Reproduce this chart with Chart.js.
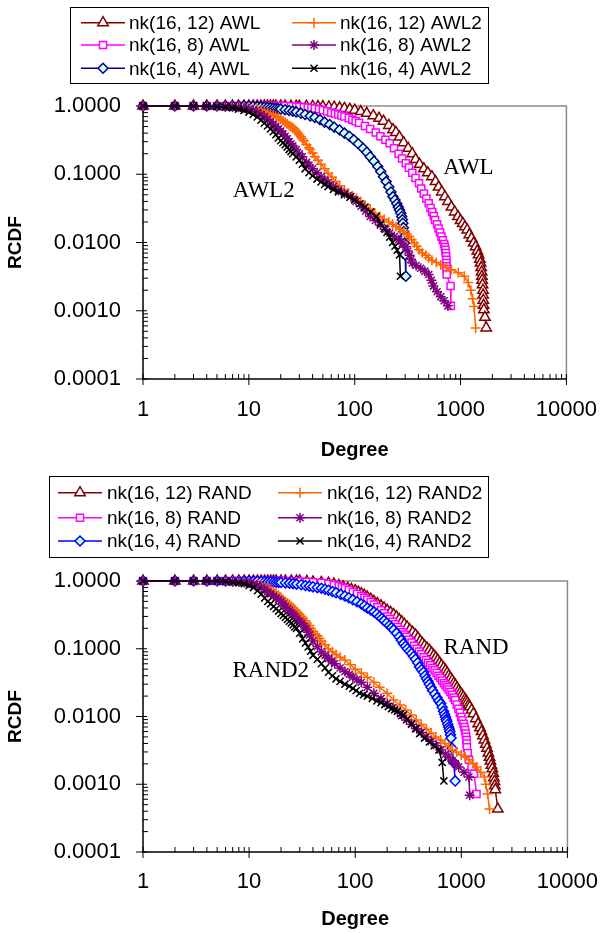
<!DOCTYPE html>
<html lang="en">
<head>
<meta charset="UTF-8">
<title>RCDF of degree: AWL and RAND</title>
<script src="https://cdn.jsdelivr.net/npm/chart.js@4.4.1/dist/chart.umd.min.js"></script>
<style>
body { margin: 0; background: #fff; }
.wrap { position: relative; width: 615px; height: 933px; }
canvas { position: absolute; left: 0; }
#awlChart { top: 0; }
#randChart { top: 466px; }
</style>
</head>
<body>
<div class="wrap">
<canvas id="awlChart" width="615" height="466"></canvas>
<canvas id="randChart" width="615" height="467"></canvas>
</div>
<script>
// axis ticks
const degreeTicks = [1, 10, 100, 1000, 10000];
const rcdfTicks = [0.0001, 0.001, 0.01, 0.1, 1];

// ---- upper chart: AWL / AWL2 ---- [degree, rcdf]
const awl12 = [[1,1],[2,1],[3,1],[4,1],[5,1],[6,1],[7,1],[8,1],[9,1],[10,1],[11,1],[12,1],[13,1],[14,1],[15,1],[16,1],[17,1],[18,1],[20,1],[22,1],[25,0.995],[28,0.993],[30,0.99],[35,0.988],[40,0.985],[45,0.983],[50,0.98],[57,0.97],[64,0.96],[72,0.94],[80,0.92],[90,0.895],[100,0.87],[114,0.83],[130,0.78],[150,0.72],[170,0.66],[187,0.6],[210,0.52],[230,0.45],[245,0.41],[265,0.35],[290,0.29],[320,0.24],[350,0.2],[376,0.165],[410,0.14],[450,0.12],[490,0.105],[536,0.092],[580,0.078],[620,0.065],[665,0.055],[710,0.047],[760,0.04],[820,0.033],[880,0.028],[945,0.024],[1000,0.021],[1050,0.019],[1100,0.017],[1155,0.0153],[1210,0.013],[1270,0.0115],[1330,0.0098],[1390,0.0087],[1440,0.0075],[1480,0.0066],[1520,0.0057],[1545,0.005],[1565,0.0043],[1580,0.0037],[1590,0.0032],[1600,0.0028],[1615,0.0024],[1630,0.002],[1635,0.0017],[1640,0.00143],[1650,0.0012],[1660,0.00103],[1700,0.0008],[1745,0.00056]];
const awl8 = [[1,1],[2,1],[3,1],[4,1],[5,1],[6,1],[7,1],[8,1],[9,1],[10,1],[11,1],[12,1],[13,1],[14,1],[15,1],[16,1],[17,1],[18,1],[20,1],[22,1],[25,0.99],[28,0.98],[30,0.97],[33,0.96],[36,0.95],[39,0.935],[42,0.92],[46,0.895],[50,0.87],[55,0.835],[60,0.8],[65,0.775],[70,0.75],[75,0.725],[80,0.7],[88,0.665],[95,0.63],[102,0.6],[110,0.57],[125,0.51],[140,0.46],[158,0.41],[175,0.36],[195,0.32],[214,0.284],[235,0.24],[260,0.2],[280,0.17],[304,0.145],[325,0.125],[350,0.105],[375,0.088],[405,0.074],[425,0.062],[450,0.052],[475,0.044],[500,0.0376],[520,0.032],[540,0.028],[558,0.0245],[575,0.0214],[600,0.0185],[620,0.016],[640,0.014],[660,0.0122],[680,0.0108],[700,0.0095],[710,0.0086],[720,0.0078],[725,0.007],[730,0.0063],[733,0.0056],[735,0.005],[738,0.0045],[740,0.0041],[740,0.0034],[805,0.0023],[810,0.00118]];
const awl4 = [[1,1],[2,1],[3,1],[4,1],[5,1],[6,1],[7,1],[8,1],[9,1],[10,1],[11,0.99],[12,0.98],[13,0.97],[14,0.96],[15,0.95],[16,0.94],[17,0.93],[18,0.92],[19,0.91],[20,0.9],[22,0.88],[24,0.86],[26,0.84],[28,0.82],[31,0.785],[34,0.75],[38,0.715],[42,0.68],[47,0.63],[52,0.58],[58,0.535],[64,0.49],[72,0.445],[80,0.4],[89,0.36],[98,0.32],[108,0.28],[120,0.24],[130,0.21],[140,0.18],[152,0.155],[165,0.13],[176,0.11],[187,0.092],[198,0.078],[210,0.065],[220,0.055],[230,0.047],[240,0.042],[250,0.037],[258,0.033],[265,0.03],[272,0.027],[278,0.024],[282,0.0215],[285,0.0191],[288,0.0165],[290,0.0145],[293,0.012],[296,0.0098],[300,0.0066],[304,0.0032]];
const awl2k12 = [[1,1],[2,1],[3,1],[4,1],[5,1],[6,1],[7,1],[8,0.98],[9,0.97],[10,0.95],[11,0.93],[12,0.9],[13,0.87],[14,0.84],[15,0.8],[16,0.77],[17,0.74],[18,0.71],[19,0.68],[20,0.64],[21,0.61],[22,0.58],[23,0.55],[24,0.52],[25,0.5],[26,0.48],[27,0.455],[28,0.43],[29,0.405],[30,0.38],[31,0.355],[32,0.33],[33,0.31],[35,0.27],[37,0.245],[38,0.23],[40,0.205],[42,0.18],[45,0.16],[48,0.14],[52,0.12],[56,0.103],[61,0.09],[66,0.078],[72,0.068],[80,0.059],[87,0.053],[95,0.048],[104,0.044],[114,0.04],[126,0.035],[140,0.031],[155,0.027],[173,0.024],[190,0.022],[210,0.02],[228,0.0185],[246,0.0171],[268,0.0158],[290,0.0145],[310,0.0133],[327,0.0122],[345,0.011],[365,0.0098],[385,0.0088],[405,0.0078],[435,0.0071],[470,0.0065],[500,0.006],[536,0.0055],[590,0.0051],[650,0.0047],[730,0.0043],[820,0.004],[950,0.0036],[1085,0.0032],[1180,0.0026],[1250,0.002],[1300,0.0015],[1340,0.00115],[1390,0.00056]];
const awl2k8 = [[1,1],[2,1],[3,1],[4,1],[5,1],[6,0.99],[7,0.98],[8,0.96],[9,0.93],[10,0.9],[11,0.86],[12,0.8],[13,0.75],[14,0.7],[15,0.64],[16,0.59],[17,0.54],[18,0.5],[19,0.46],[20,0.43],[21,0.39],[22,0.36],[23,0.33],[24,0.3],[25,0.28],[26,0.26],[28,0.23],[30,0.2],[32,0.18],[35,0.15],[37,0.135],[40,0.12],[44,0.105],[48,0.092],[52,0.083],[56,0.075],[63,0.066],[70,0.058],[80,0.052],[92,0.047],[103,0.04],[115,0.034],[127,0.029],[140,0.024],[157,0.021],[175,0.018],[195,0.0155],[214,0.0137],[237,0.0122],[260,0.011],[282,0.0097],[304,0.0087],[318,0.0075],[330,0.0065],[340,0.0057],[350,0.005],[380,0.0046],[420,0.0042],[460,0.0038],[500,0.0034],[530,0.0028],[555,0.0023],[600,0.0019],[650,0.0016],[700,0.0014],[760,0.00118]];
const awl2k4 = [[1,1],[2,1],[3,1],[4,0.99],[5,0.98],[6,0.96],[7,0.94],[8,0.9],[9,0.86],[10,0.81],[11,0.75],[12,0.69],[13,0.62],[14,0.56],[15,0.51],[16,0.46],[17,0.42],[18,0.38],[19,0.34],[20,0.31],[21,0.29],[22,0.27],[23,0.25],[24,0.23],[25,0.215],[26,0.2],[28,0.18],[30,0.16],[32,0.14],[34,0.12],[37,0.105],[40,0.095],[44,0.085],[48,0.077],[52,0.071],[56,0.066],[63,0.06],[70,0.055],[80,0.05],[90,0.046],[100,0.042],[112,0.037],[125,0.033],[142,0.028],[160,0.024],[175,0.019],[190,0.016],[202,0.014],[214,0.012],[228,0.01],[240,0.0088],[252,0.0077],[265,0.0066],[270,0.0032]];

// ---- lower chart: RAND / RAND2 ----
const rand12 = [[1,1],[2,1],[3,1],[4,1],[5,1],[6,1],[7,1],[8,1],[9,1],[10,1],[11,1],[12,1],[13,1],[14,1],[15,1],[16,1],[17,1],[18,1],[20,1],[22,1],[25,1],[28,1],[30,1],[35,0.985],[40,0.97],[48,0.95],[56,0.93],[63,0.9],[70,0.86],[77,0.82],[85,0.78],[92,0.75],[100,0.72],[107,0.685],[114,0.65],[122,0.615],[130,0.58],[140,0.54],[150,0.5],[162,0.465],[175,0.43],[187,0.4],[200,0.37],[215,0.345],[230,0.32],[245,0.295],[260,0.27],[275,0.25],[290,0.23],[308,0.21],[327,0.19],[348,0.175],[370,0.16],[390,0.145],[410,0.13],[430,0.12],[450,0.11],[475,0.102],[500,0.095],[525,0.087],[550,0.08],[575,0.074],[600,0.068],[625,0.062],[650,0.057],[680,0.052],[710,0.048],[735,0.044],[760,0.04],[790,0.037],[820,0.034],[850,0.031],[880,0.029],[910,0.0265],[945,0.0243],[975,0.0225],[1010,0.021],[1045,0.0195],[1080,0.018],[1110,0.017],[1140,0.016],[1170,0.0148],[1200,0.0139],[1250,0.0125],[1300,0.011],[1370,0.0093],[1440,0.0078],[1500,0.0068],[1550,0.006],[1600,0.0052],[1650,0.0045],[1700,0.0039],[1750,0.0034],[1800,0.0029],[1845,0.0025],[1880,0.0022],[1920,0.0019],[1960,0.0017],[2000,0.00145],[2030,0.00125],[2050,0.0011],[2070,0.00095],[2090,0.00083],[2210,0.00043]];
const rand8 = [[1,1],[2,1],[3,1],[4,1],[5,1],[6,1],[7,1],[8,1],[9,1],[10,1],[11,1],[12,1],[13,1],[14,1],[15,1],[16,1],[17,1],[18,1],[20,1],[22,1],[25,0.99],[30,0.98],[35,0.97],[40,0.96],[48,0.94],[56,0.91],[63,0.875],[70,0.84],[75,0.81],[80,0.78],[87,0.735],[95,0.69],[104,0.645],[114,0.6],[122,0.565],[130,0.53],[140,0.49],[150,0.45],[162,0.41],[175,0.37],[187,0.335],[200,0.3],[212,0.275],[225,0.25],[237,0.23],[250,0.21],[265,0.19],[280,0.175],[292,0.162],[304,0.15],[322,0.136],[340,0.123],[360,0.111],[380,0.1],[400,0.091],[420,0.083],[442,0.075],[465,0.068],[488,0.062],[510,0.057],[535,0.052],[560,0.048],[585,0.044],[610,0.04],[635,0.037],[660,0.034],[685,0.031],[710,0.029],[735,0.027],[760,0.025],[790,0.023],[820,0.021],[848,0.019],[875,0.0175],[905,0.015],[940,0.013],[970,0.0113],[1000,0.0098],[1025,0.0088],[1050,0.0078],[1070,0.007],[1085,0.0063],[1100,0.0056],[1110,0.005],[1120,0.0045],[1125,0.004],[1130,0.0035],[1150,0.0029],[1180,0.0023],[1250,0.0018],[1320,0.00143],[1390,0.00072]];
const rand4 = [[1,1],[2,1],[3,1],[4,1],[5,1],[6,1],[7,1],[8,1],[9,1],[10,1],[11,0.995],[12,0.99],[13,0.985],[14,0.975],[15,0.97],[16,0.967],[17,0.963],[18,0.96],[19,0.955],[20,0.95],[22,0.94],[24,0.93],[26,0.915],[28,0.9],[31,0.88],[34,0.86],[37,0.84],[40,0.82],[44,0.8],[48,0.78],[52,0.755],[56,0.73],[61,0.7],[66,0.67],[73,0.635],[80,0.6],[87,0.565],[95,0.53],[104,0.495],[114,0.46],[122,0.43],[130,0.4],[140,0.375],[150,0.35],[160,0.325],[170,0.3],[178,0.28],[187,0.26],[198,0.24],[210,0.22],[220,0.205],[230,0.19],[245,0.17],[260,0.15],[272,0.134],[285,0.119],[298,0.109],[310,0.1],[325,0.092],[340,0.085],[355,0.077],[370,0.07],[388,0.062],[405,0.054],[422,0.049],[440,0.045],[455,0.04],[470,0.036],[485,0.033],[500,0.03],[518,0.027],[536,0.0243],[563,0.0215],[590,0.019],[615,0.017],[640,0.0155],[660,0.0137],[680,0.012],[695,0.0108],[710,0.0098],[720,0.009],[730,0.0085],[745,0.0077],[760,0.007],[770,0.0065],[780,0.006],[790,0.0054],[800,0.0048],[820,0.0034],[850,0.0021],[875,0.00112]];
const rand2k12 = [[1,1],[2,1],[3,1],[4,1],[5,1],[6,1],[7,1],[8,0.98],[9,0.97],[10,0.95],[11,0.93],[12,0.91],[13,0.88],[14,0.84],[15,0.8],[16,0.75],[17,0.7],[18,0.66],[19,0.61],[20,0.57],[21,0.535],[22,0.5],[23,0.475],[24,0.45],[25,0.425],[26,0.4],[27,0.375],[28,0.35],[29,0.33],[30,0.315],[31,0.3],[32,0.285],[34,0.26],[35,0.24],[37,0.22],[38,0.2],[40,0.18],[42,0.165],[44,0.155],[46,0.142],[48,0.13],[52,0.115],[56,0.1],[61,0.09],[66,0.082],[72,0.075],[80,0.068],[90,0.058],[100,0.05],[114,0.044],[130,0.038],[150,0.032],[170,0.027],[200,0.022],[230,0.0175],[265,0.0148],[300,0.0125],[337,0.0105],[376,0.0089],[420,0.0076],[470,0.0065],[520,0.0057],[575,0.005],[640,0.0045],[700,0.004],[760,0.0036],[820,0.0032],[900,0.003],[1000,0.0027],[1090,0.0025],[1180,0.0023],[1290,0.002],[1400,0.0018],[1520,0.0015],[1650,0.00128],[1700,0.001],[1770,0.00072],[1845,0.00043]];
const rand2k8 = [[1,1],[2,1],[3,1],[4,1],[5,1],[6,0.99],[7,0.98],[8,0.97],[9,0.95],[10,0.93],[11,0.9],[12,0.86],[13,0.8],[14,0.75],[15,0.69],[16,0.645],[17,0.6],[18,0.56],[19,0.53],[20,0.5],[21,0.46],[22,0.42],[23,0.39],[24,0.365],[25,0.34],[26,0.32],[27,0.3],[28,0.28],[30,0.255],[31,0.24],[33,0.215],[34,0.2],[36,0.175],[37,0.16],[40,0.13],[44,0.108],[48,0.09],[52,0.08],[56,0.072],[60,0.066],[64,0.06],[72,0.052],[80,0.046],[88,0.042],[95,0.038],[104,0.035],[114,0.032],[130,0.027],[150,0.022],[175,0.0185],[200,0.0155],[225,0.0135],[250,0.012],[275,0.0103],[304,0.0089],[340,0.0077],[380,0.0066],[420,0.0058],[465,0.005],[520,0.0043],[580,0.0037],[640,0.0032],[710,0.0028],[760,0.0025],[820,0.0022],[880,0.002],[945,0.0018],[1060,0.0015],[1180,0.00128],[1200,0.00069]];
const rand2k4 = [[1,1],[2,1],[3,1],[4,1],[5,0.99],[6,0.98],[7,0.96],[8,0.94],[9,0.91],[10,0.86],[11,0.8],[12,0.72],[13,0.64],[14,0.56],[15,0.5],[16,0.46],[17,0.42],[18,0.39],[19,0.36],[20,0.33],[21,0.31],[22,0.29],[23,0.27],[24,0.255],[25,0.24],[26,0.225],[27,0.21],[28,0.2],[30,0.17],[32,0.14],[34,0.122],[36,0.106],[38,0.092],[40,0.08],[44,0.07],[48,0.06],[52,0.052],[56,0.045],[61,0.04],[66,0.036],[72,0.033],[80,0.03],[88,0.028],[95,0.026],[102,0.024],[110,0.022],[120,0.021],[130,0.02],[145,0.0185],[160,0.017],[175,0.016],[190,0.015],[205,0.014],[220,0.013],[235,0.0125],[250,0.012],[268,0.011],[285,0.0105],[310,0.0092],[340,0.0078],[370,0.0066],[405,0.0056],[450,0.0048],[500,0.0042],[555,0.0037],[615,0.0032],[660,0.0021],[685,0.00112]];

const FONT = 'Arial, "Liberation Sans", sans-serif';
const SERIF = '"Times New Roman", "Liberation Serif", serif';
Chart.defaults.font.family = FONT;
Chart.defaults.color = '#000';

const toXY = a => a.map(([x, y]) => ({ x, y }));

// one style per curve; drawn black-first (on top) to dark red (bottom)
function makeSet(label, data, color, pointStyle, fill, order) {
  return {
    label, data: toXY(data), order,
    borderColor: color, borderWidth: 1.5,
    pointStyle, pointRadius: pointStyle === 'triangle' ? 6 : 5,
    pointBorderColor: color, pointBackgroundColor: fill || color,
    pointBorderWidth: 1.5, pointHoverRadius: 5,
    tension: 0, fill: false, clip: false
  };
}

function drawPt(ctx, ds, x, y) {
  ctx.save();
  ctx.strokeStyle = ds.pointBorderColor;
  ctx.fillStyle = ds.pointBackgroundColor;
  ctx.lineWidth = ds.pointBorderWidth;
  Chart.helpers.drawPoint(ctx, { pointStyle: ds.pointStyle, radius: ds.pointRadius, rotation: 0, borderWidth: ds.pointBorderWidth }, x, y);
  ctx.restore();
}

// axes, border, Excel-style log ticks (major out, minor in)
const axesPlugin = {
  id: 'axesPlugin',
  beforeDatasetsDraw(chart) {
    const { ctx, chartArea: a, scales: { x, y } } = chart;
    const seg = (x1, y1, x2, y2) => { ctx.beginPath(); ctx.moveTo(x1, y1); ctx.lineTo(x2, y2); ctx.stroke(); };
    ctx.save();
    ctx.lineWidth = 1.5;
    ctx.strokeStyle = '#8c8c8c';
    ctx.beginPath(); ctx.moveTo(a.left, a.top); ctx.lineTo(a.right, a.top); ctx.lineTo(a.right, a.bottom); ctx.stroke();
    ctx.strokeStyle = '#000';
    ctx.lineWidth = 1;
    degreeTicks.forEach((d, i) => {
      const p = x.getPixelForValue(d);
      seg(p, a.bottom - 5, p, a.bottom + 6);
      if (i < degreeTicks.length - 1) {
        for (let m = 2; m < 10; m++) {
          const q = x.getPixelForValue(d * m);
          seg(q, a.bottom - 5, q, a.bottom);
        }
      }
    });
    rcdfTicks.forEach((v, i) => {
      const p = y.getPixelForValue(v);
      seg(a.left - 7, p, a.left + 4, p);
      if (i < rcdfTicks.length - 1) {
        for (let m = 2; m < 10; m++) {
          const q = y.getPixelForValue(v * m);
          seg(a.left, q, a.left + 5, q);
        }
      }
    });
    ctx.lineWidth = 1.5;
    ctx.beginPath(); ctx.moveTo(a.left, a.top); ctx.lineTo(a.left, a.bottom); ctx.lineTo(a.right, a.bottom); ctx.stroke();
    ctx.restore();
  },
  afterDraw(chart, args, opts) {
    const { ctx, scales: { x, y } } = chart;
    ctx.save();
    // curve-group notes
    ctx.font = '23px ' + SERIF;
    ctx.fillStyle = '#000';
    ctx.textAlign = 'center';
    ctx.textBaseline = 'middle';
    opts.notes.forEach(n => ctx.fillText(n.text, x.getPixelForValue(n.x), y.getPixelForValue(n.y)));
    // boxed two-column legend
    const L = opts.legend;
    ctx.lineWidth = 1;
    ctx.strokeStyle = '#000';
    ctx.strokeRect(L.box[0] + 0.5, L.box[1] + 0.5, L.box[2], L.box[3]);
    ctx.font = '19px ' + FONT;
    ctx.textAlign = 'left';
    L.items.forEach((name, k) => {
      const ds = chart.data.datasets.find(d => d.label === name);
      const col = L.cols[k % 2];
      const ry = L.rows[Math.floor(k / 2)];
      ctx.strokeStyle = ds.borderColor;
      ctx.lineWidth = 1.5;
      ctx.beginPath(); ctx.moveTo(col[0], ry); ctx.lineTo(col[0] + 44, ry); ctx.stroke();
      drawPt(ctx, ds, col[0] + 22, ry);
      ctx.fillStyle = '#000';
      ctx.fillText(name, col[1], ry + 1);
    });
    ctx.restore();
  }
};

function makeChart(id, datasets, box, notes, legend) {
  const h = document.getElementById(id).height;
  return new Chart(document.getElementById(id), {
    type: 'line',
    data: { datasets },
    plugins: [axesPlugin],
    options: {
      responsive: false,
      animation: false,
      devicePixelRatio: 1,
      layout: { padding: { top: box.top, right: 615 - box.right, left: 0, bottom: 0 } },
      plugins: {
        legend: { display: false },
        tooltip: { enabled: false },
        axesPlugin: { notes, legend }
      },
      scales: {
        x: {
          type: 'logarithmic', min: 1, max: 10000,
          afterFit: s => { s.height = h - box.bottom; },
          afterBuildTicks: s => { s.ticks = degreeTicks.map(v => ({ value: v })); },
          grid: { display: false, drawTicks: false },
          border: { display: false },
          ticks: { font: { size: 22 }, padding: box.xPad, maxRotation: 0, autoSkip: false, callback: v => String(v) },
          title: { display: true, text: 'Degree', font: { size: 20, weight: 'bold' }, padding: { top: 0, bottom: box.titlePad } }
        },
        y: {
          type: 'logarithmic', min: 0.0001, max: 1,
          afterFit: s => { s.width = box.left; },
          afterBuildTicks: s => { s.ticks = rcdfTicks.map(v => ({ value: v })); },
          grid: { display: false, drawTicks: false },
          border: { display: false },
          ticks: { font: { size: 22 }, padding: 22, autoSkip: false, callback: v => Number(v).toFixed(4) },
          title: { display: true, text: 'RCDF', font: { size: 19, weight: 'bold' }, padding: { top: 4, bottom: 0 } }
        }
      }
    }
  });
}

makeChart('awlChart', [
  makeSet('nk(16, 4) AWL2', awl2k4, '#000000', 'crossRot', null, 0),
  makeSet('nk(16, 8) AWL2', awl2k8, '#800080', 'star', null, 1),
  makeSet('nk(16, 12) AWL2', awl2k12, '#FF6600', 'cross', null, 2),
  makeSet('nk(16, 4) AWL', awl4, '#000080', 'rectRot', '#CCFFFF', 3),
  makeSet('nk(16, 8) AWL', awl8, '#FF00FF', 'rect', '#FFFFFF', 4),
  makeSet('nk(16, 12) AWL', awl12, '#800000', 'triangle', '#FFFFFF', 5)
], { left: 143, right: 578, top: 106, bottom: 379, xPad: 18, titlePad: 4 },
[{ text: 'AWL2', x: 13.8, y: 0.057 }, { text: 'AWL', x: 1186, y: 0.124 }],
{ box: [70, 7, 418, 76], rows: [22.7, 45, 68.3], cols: [[81, 129], [292, 340]],
  items: ['nk(16, 12) AWL', 'nk(16, 12) AWL2', 'nk(16, 8) AWL', 'nk(16, 8) AWL2', 'nk(16, 4) AWL', 'nk(16, 4) AWL2'] });

makeChart('randChart', [
  makeSet('nk(16, 4) RAND2', rand2k4, '#000000', 'crossRot', null, 0),
  makeSet('nk(16, 8) RAND2', rand2k8, '#800080', 'star', null, 1),
  makeSet('nk(16, 12) RAND2', rand2k12, '#FF6600', 'cross', null, 2),
  makeSet('nk(16, 4) RAND', rand4, '#0000FF', 'rectRot', '#CCFFFF', 3),
  makeSet('nk(16, 8) RAND', rand8, '#FF00FF', 'rect', '#FFFFFF', 4),
  makeSet('nk(16, 12) RAND', rand12, '#800000', 'triangle', '#FFFFFF', 5)
], { left: 143, right: 578, top: 115, bottom: 386, xPad: 17, titlePad: 2 },
[{ text: 'RAND2', x: 16, y: 0.0465 }, { text: 'RAND', x: 1376, y: 0.1016 }],
{ box: [49, 10, 439, 81], rows: [26.7, 51.7, 75], cols: [[58, 107], [278, 327]],
  items: ['nk(16, 12) RAND', 'nk(16, 12) RAND2', 'nk(16, 8) RAND', 'nk(16, 8) RAND2', 'nk(16, 4) RAND', 'nk(16, 4) RAND2'] });
</script>
</body>
</html>
